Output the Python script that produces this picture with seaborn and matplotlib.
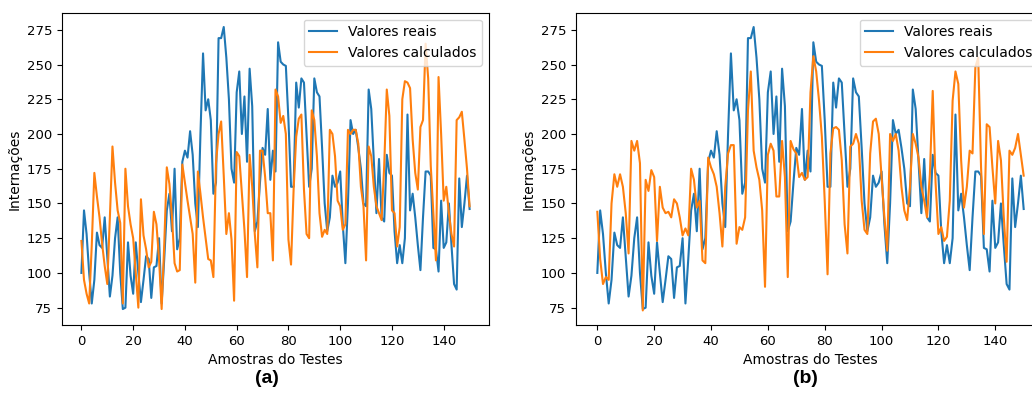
import numpy as np
import matplotlib
matplotlib.use("Agg")
import matplotlib.pyplot as plt
import seaborn as sns

# sample index (0..150)
amostras = list(range(151))

# real values, same in both panels
valores_reais = [
    100, 145, 128, 100, 78, 95, 129, 120, 118, 140,
    112, 83, 98, 125, 140, 100, 74, 75, 122, 98,
    85, 122, 100, 79, 95, 112, 110, 82, 104, 105,
    125, 78, 110, 145, 157, 130, 175, 117, 125, 180,
    188, 183, 202, 185, 150, 133, 200, 258, 217, 225,
    210, 157, 165, 269, 269, 277, 255, 225, 175, 165,
    230, 245, 200, 227, 180, 247, 220, 130, 137, 165,
    190, 185, 218, 167, 188, 173, 266, 252, 250, 249,
    210, 162, 162, 237, 219, 240, 237, 200, 162, 175,
    240, 230, 227, 190, 150, 130, 140, 170, 162, 165,
    173, 135, 107, 150, 210, 200, 203, 190, 175, 150,
    148, 232, 218, 180, 143, 182, 140, 137, 185, 172,
    170, 130, 107, 120, 107, 125, 214, 145, 157, 140,
    120, 102, 140, 173, 173, 170, 118, 117, 101, 152,
    118, 122, 150, 120, 92, 88, 168, 133, 150, 170,
    146,
]

# calculated values, panel (a)
calculados_a = [
    123, 95, 85, 78, 120, 172, 155, 140, 121, 105,
    92, 140, 191, 165, 145, 136, 78, 175, 148, 135,
    125, 100, 75, 153, 127, 117, 104, 108, 144, 135,
    110, 74, 120, 176, 164, 140, 107, 101, 102, 178,
    165, 152, 140, 128, 93, 173, 157, 140, 125, 110,
    109, 97, 179, 200, 209, 170, 128, 143, 124, 80,
    187, 184, 157, 131, 97, 185, 162, 128, 104, 188,
    188, 169, 143, 143, 109, 232, 227, 208, 213, 200,
    124, 106, 160, 198, 211, 214, 160, 128, 125, 217,
    210, 184, 143, 126, 131, 128, 203, 200, 184, 152,
    148, 131, 135, 203, 200, 203, 203, 193, 162, 148,
    109, 191, 184, 162, 148, 143, 138, 177, 232, 213,
    145, 143, 119, 133, 225, 238, 237, 233, 196, 172,
    160, 205, 210, 265, 240, 177, 143, 109, 241, 200,
    152, 162, 143, 128, 119, 210, 212, 216, 196, 175,
    148,
]

# calculated values, panel (b)
calculados_b = [
    144, 110, 92, 97, 95, 150, 171, 162, 171, 162,
    143, 114, 195, 188, 195, 179, 73, 167, 159, 174,
    169, 123, 162, 147, 143, 144, 140, 153, 150, 140,
    127, 132, 127, 175, 167, 147, 152, 109, 107, 183,
    176, 171, 162, 143, 119, 162, 186, 192, 192, 121,
    133, 131, 140, 217, 245, 188, 176, 167, 145, 90,
    185, 193, 188, 155, 155, 195, 169, 97, 195, 189,
    186, 169, 172, 167, 169, 230, 256, 245, 224, 198,
    152, 99, 186, 204, 205, 203, 181, 135, 114, 191,
    193, 200, 193, 152, 131, 128, 186, 209, 211, 200,
    169, 140, 116, 200, 195, 200, 188, 162, 145, 138,
    162, 200, 193, 183, 162, 152, 140, 171, 231, 165,
    128, 133, 123, 126, 152, 224, 245, 236, 181, 147,
    162, 188, 186, 248, 255, 176, 128, 207, 205, 176,
    150, 195, 181, 140, 108, 188, 185, 190, 200, 185,
    170,
]

assert len(valores_reais) == len(calculados_a) == len(calculados_b) == len(amostras)

paineis = [
    ("(a)", calculados_a, [62 / 1032, 0.1935, 427 / 1032, 0.775], 0.259),
    ("(b)", calculados_b, [576 / 1032, 0.1935, 469 / 1032, 0.775], 0.780),
]

fig = plt.figure(figsize=(10.32, 4.03), dpi=100)

for letra, calculados, rect, xtxt in paineis:
    ax = fig.add_axes(rect)
    sns.lineplot(x=amostras, y=valores_reais, ax=ax, color="#1f77b4",
                 linewidth=1.5, label="Valores reais")
    sns.lineplot(x=amostras, y=calculados, ax=ax, color="#ff7f0e",
                 linewidth=1.5, label="Valores calculados")
    ax.set_xlim(-7.5, 157.5)
    ax.set_ylim(62.5, 287.3)
    ax.set_xticks(range(0, 141, 20))
    ax.set_yticks(range(75, 276, 25))
    ax.tick_params(labelsize=9.5)
    ax.set_xlabel("Amostras do Testes", fontsize=10)
    ax.set_ylabel("Internações", fontsize=10)
    ax.legend(loc="upper right", fontsize=10)
    fig.text(xtxt, 0.062, letra, ha="center", va="center", fontsize=14,
             fontweight="bold", family="Liberation Sans")

fig.savefig("out.png", dpi=100)
plt.close(fig)
